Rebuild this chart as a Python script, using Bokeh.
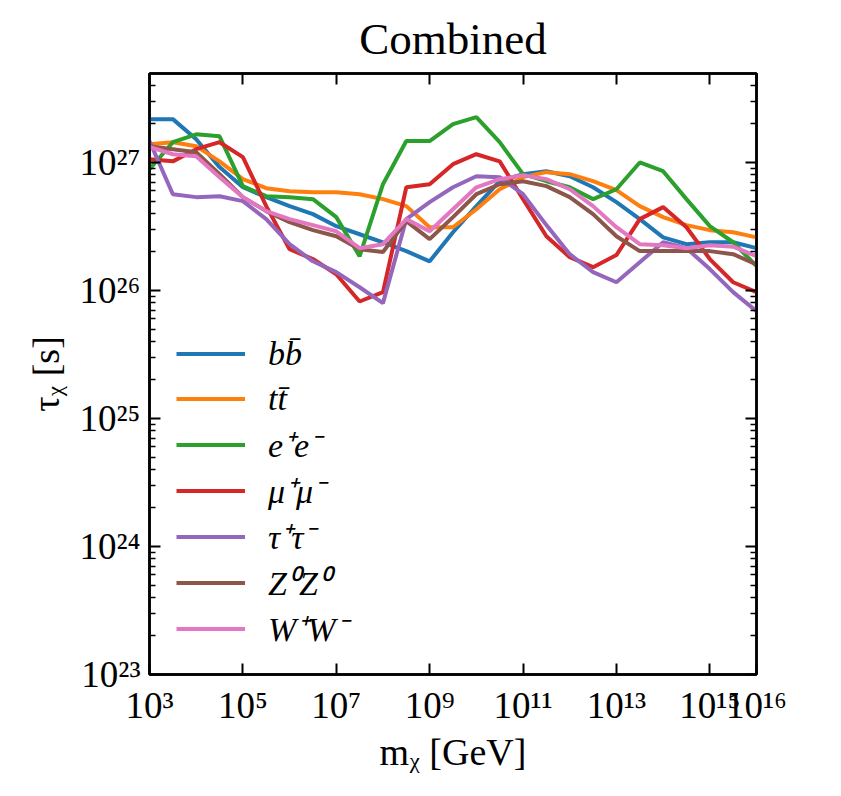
from bokeh.plotting import figure
from bokeh.models import Range1d, FixedTicker, LogAxis, CustomJSTickFormatter
from bokeh.embed import file_html
from bokeh.resources import INLINE

# ---------------- data ----------------
log10_mass = [3.0, 3.5, 4.0, 4.5, 5.0, 5.5, 6.0, 6.5, 7.0, 7.5, 8.0, 8.5, 9.0,
              9.5, 10.0, 10.5, 11.0, 11.5, 12.0, 12.5, 13.0, 13.5, 14.0, 14.5,
              15.0, 15.5, 16.0]

tau_bb = [2.18e27, 2.18e27, 1.52e27, 9.2e26, 6.4e26, 5.36e26, 4.56e26, 3.95e26,
          3.18e26, 2.75e26, 2.38e26, 2.03e26, 1.69e26, 2.85e26, 4.56e26, 7.14e26,
          8.1e26, 8.55e26, 7.8e26, 6.4e26, 4.9e26, 3.61e26, 2.6e26, 2.3e26,
          2.38e26, 2.38e26, 2.14e26]
tau_tt = [1.39e27, 1.44e27, 1.34e27, 1.02e27, 7.4e26, 6.3e26, 5.97e26, 5.86e26,
          5.86e26, 5.65e26, 5.17e26, 4.56e26, 3.12e26, 3.12e26, 4.31e26, 6.18e26,
          7.68e26, 8.4e26, 8.1e26, 7.14e26, 6.08e26, 4.56e26, 3.74e26, 3.24e26,
          2.96e26, 2.85e26, 2.6e26]
tau_ee = [8.87e26, 1.44e27, 1.66e27, 1.60e27, 6.53e26, 5.45e26, 5.36e26, 5.17e26,
          3.74e26, 1.85e26, 6.76e26, 1.47e27, 1.47e27, 1.99e27, 2.26e27, 1.44e27,
          8.1e26, 7.14e26, 6.4e26, 5.17e26, 6.18e26, 1.0e27, 8.55e26, 5.17e26,
          3.18e26, 2.38e26, 1.55e26]
tau_mumu = [1.06e27, 1.02e27, 1.27e27, 1.44e27, 1.10e27, 4.56e26, 2.1e26, 1.76e26,
            1.34e26, 8.2e25, 9.7e25, 6.4e26, 6.76e26, 9.7e26, 1.16e27, 1.02e27,
            5.17e26, 2.65e26, 1.82e26, 1.52e26, 1.89e26, 3.61e26, 4.48e26, 3.12e26,
            1.76e26, 1.16e26, 9.7e25]
tau_tautau = [1.47e27, 5.65e26, 5.36e26, 5.45e26, 4.99e26, 3.61e26, 2.3e26, 1.69e26,
              1.39e26, 1.06e26, 7.96e25, 3.61e26, 4.9e26, 6.4e26, 7.8e26, 7.68e26,
              5.65e26, 3.24e26, 1.92e26, 1.39e26, 1.16e26, 1.66e26, 2.38e26, 2.14e26,
              1.47e26, 9.7e25, 6.9e25]
tau_zz = [1.34e27, 1.27e27, 1.20e27, 8.1e26, 5.36e26, 4.17e26, 3.42e26, 2.96e26,
          2.65e26, 2.1e26, 2.0e26, 3.48e26, 2.52e26, 3.74e26, 5.65e26, 6.76e26,
          7.14e26, 6.53e26, 5.36e26, 3.95e26, 2.65e26, 2.03e26, 2.03e26, 2.03e26,
          2.03e26, 1.92e26, 1.6e26]
tau_ww = [1.32e27, 1.16e27, 1.12e27, 7.68e26, 5.36e26, 4.17e26, 3.61e26, 3.24e26,
          2.9e26, 2.14e26, 2.3e26, 3.61e26, 2.9e26, 4.31e26, 6.4e26, 7.4e26,
          7.96e26, 7.4e26, 6.18e26, 4.56e26, 3.12e26, 2.3e26, 2.26e26, 2.14e26,
          2.26e26, 2.2e26, 1.85e26]

series_labels = ["bb\u0304", "tt\u0304", "e\u207ae\u207b", "\u03bc\u207a\u03bc\u207b",
                 "\u03c4\u207a\u03c4\u207b", "Z\u2070Z\u2070", "W\u207aW\u207b"]
series_values = [tau_bb, tau_tt, tau_ee, tau_mumu, tau_tautau, tau_zz, tau_ww]
series_colors = ["#1f77b4", "#ff7f0e", "#2ca02c", "#d62728", "#9467bd",
                 "#8c564b", "#e377c2"]

x_tick_values = [1e3, 1e5, 1e7, 1e9, 1e11, 1e13, 1e15, 1e16]
x_tick_labels = ["10\u00b3", "10\u2075", "10\u2077", "10\u2079", "10\u00b9\u00b9",
                 "10\u00b9\u00b3", "10\u00b9\u2075", "10\u00b9\u2076"]
y_tick_values = [1e23, 1e24, 1e25, 1e26, 1e27]
y_tick_labels = ["10\u00b2\u00b3", "10\u00b2\u2074", "10\u00b2\u2075",
                 "10\u00b2\u2076", "10\u00b2\u2077"]
y_minor_values = [m * 10.0 ** e for e in range(23, 28) for m in range(2, 10)
                  if m * 10.0 ** e < 5e27]

title_text = "Combined"
x_label = "m\u1d6a [GeV]"
y_label = "\u03c4\u1d6a [s]"
FONT = "Liberation Serif"

# ---------------- figure ----------------
mass = [10.0 ** v for v in log10_mass]

p = figure(frame_width=607, frame_height=601, x_axis_type="log", y_axis_type="log",
           x_range=Range1d(1e3, 1e16), y_range=Range1d(1e23, 10 ** 27.695),
           output_backend="svg", toolbar_location=None,
           min_border_left=149, min_border_right=60, min_border_top=73,
           min_border_bottom=100)
p.background_fill_color = "white"
p.border_fill_color = "white"
p.outline_line_color = "black"
p.outline_line_width = 2.5
p.xgrid.grid_line_color = None
p.ygrid.grid_line_color = None

p.title.text = title_text
p.title.text_font = FONT
p.title.text_font_size = "45px"
p.title.text_font_style = "normal"
p.title.text_color = "black"
p.title.align = "center"
p.title.standoff = 19
p.title.offset = 0

for vals, lab, col in zip(series_values, series_labels, series_colors):
    p.line(mass, vals, line_color=col, line_width=4.0, legend_label=lab)

xt = FixedTicker(ticks=x_tick_values, minor_ticks=[])
yt = FixedTicker(ticks=y_tick_values, minor_ticks=y_minor_values)

blank = CustomJSTickFormatter(code="return ''")


def style_axis(ax):
    ax.axis_line_color = "black"
    ax.axis_line_width = 2.5
    ax.major_tick_line_color = "black"
    ax.major_tick_line_width = 2
    ax.major_tick_in = 11
    ax.major_tick_out = 0
    ax.minor_tick_line_color = "black"
    ax.minor_tick_line_width = 1.5
    ax.minor_tick_in = 6
    ax.minor_tick_out = 0
    ax.major_label_text_font = FONT
    ax.major_label_text_font_size = "37px"
    ax.major_label_text_color = "black"
    ax.axis_label_text_font = FONT
    ax.axis_label_text_font_size = "38px"
    ax.axis_label_text_font_style = "normal"
    ax.axis_label_text_color = "black"


xa = p.xaxis[0]
xa.ticker = xt
xa.major_label_overrides = dict(zip(x_tick_values, x_tick_labels))
style_axis(xa)
xa.major_label_standoff = 10
xa.axis_label = x_label
xa.axis_label_standoff = 2

ya = p.yaxis[0]
ya.ticker = yt
ya.major_label_overrides = dict(zip(y_tick_values, y_tick_labels))
style_axis(ya)
ya.major_label_standoff = 9
ya.axis_label = y_label
ya.axis_label_standoff = 10

top = LogAxis(ticker=xt, formatter=blank)
style_axis(top)
top.major_label_text_font_size = "0px"
p.add_layout(top, "above")
right = LogAxis(ticker=yt, formatter=blank)
style_axis(right)
right.major_label_text_font_size = "0px"
p.add_layout(right, "right")

# ---------------- legend ----------------
leg = p.legend[0]
leg.location = (27, 23)
leg.border_line_color = None
leg.background_fill_alpha = 0
leg.margin = 0
leg.padding = 0
leg.spacing = 0
leg.glyph_width = 69
leg.glyph_height = 45
leg.label_height = 45
leg.label_standoff = 23
leg.label_text_font = FONT
leg.label_text_font_style = "italic"
leg.label_text_font_size = "34px"
leg.label_text_line_height = 1.0
leg.label_text_color = "black"
leg.label_text_baseline = "middle"

open("out.html", "w").write(file_html(p, INLINE))
